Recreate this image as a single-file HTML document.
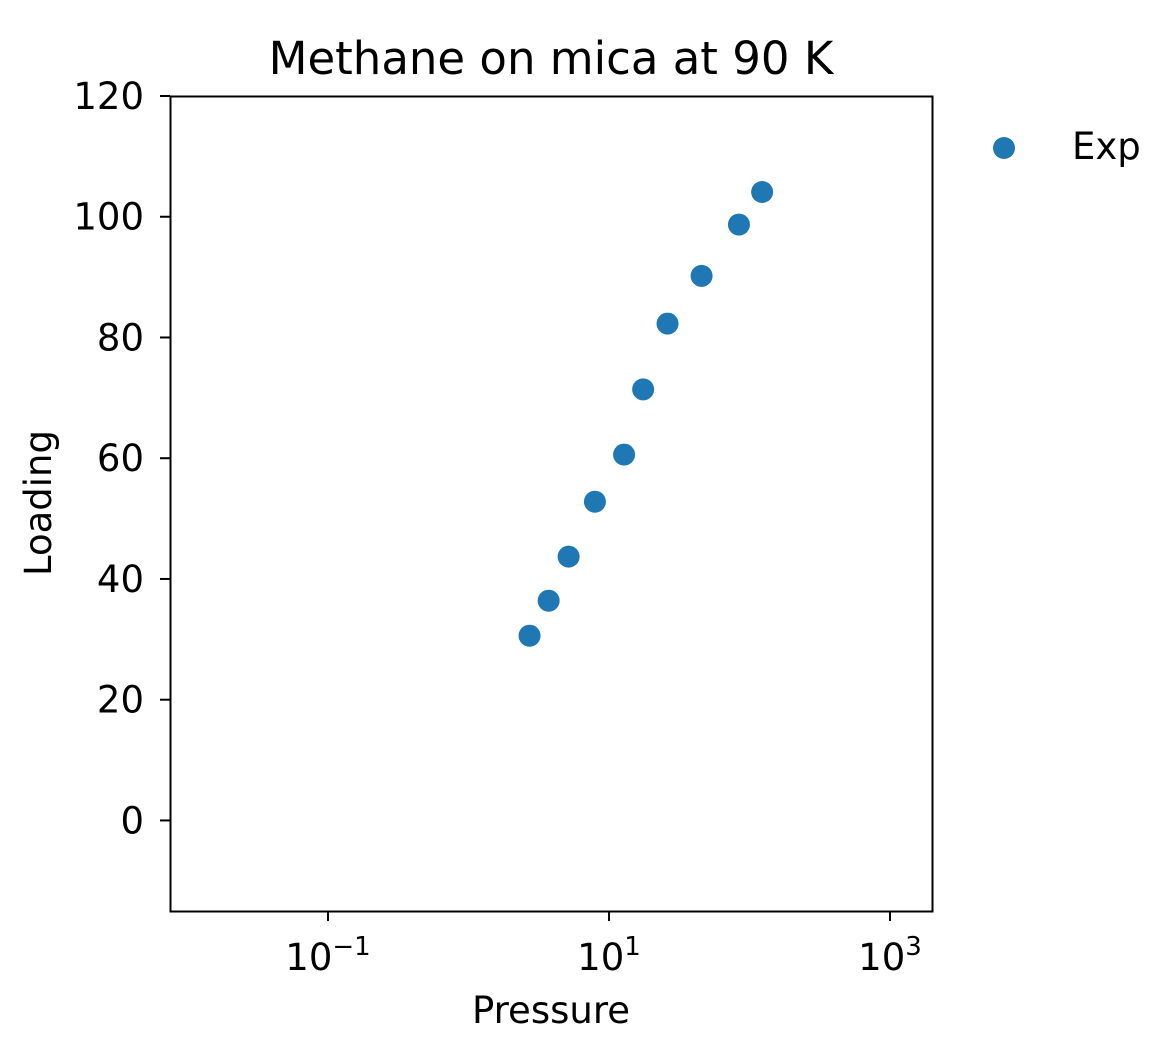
<!DOCTYPE html>
<html><head><meta charset="utf-8"><style>
body{margin:0;background:#fff;}
svg text{font-family:"DejaVu Sans","Liberation Sans",sans-serif;fill:#000;}
</style></head><body>
<svg width="1163" height="1048" id="c">
<text x="551" y="74" font-size="45" text-anchor="middle">Methane on mica at 90 K</text>
<text x="551" y="1023" font-size="37" text-anchor="middle">Pressure</text>
<text transform="translate(51,503) rotate(-90)" font-size="37" text-anchor="middle">Loading</text>
<g id="plot"></g>
<rect x="170.5" y="96.5" width="762" height="815" fill="none" stroke="#000" stroke-width="2"/>
<circle cx="1004" cy="148" r="11" fill="#1f77b4"/>
<text x="1072" y="159" font-size="37">Exp</text>
</svg>
<script>
const pressure=[2.72,3.72,5.16,7.94,12.8,17.5,26.1,45.6,84.1,123];
const loading=[30.6,36.4,43.7,52.8,60.6,71.4,82.3,90.2,98.7,104.1];
const yTicks=[0,20,40,60,80,100,120];
const xTickExp=[-1,1,3];
const L=170,R=932,T=96,B=911;
const yMin=-15,yMax=120;
const xMinLog=-1-(328-L)/140.5, xMaxLog=xMinLog+(R-L)/140.5;
const sx=p=>L+(Math.log10(p)-xMinLog)/(xMaxLog-xMinLog)*(R-L);
const sy=v=>B-(v-yMin)/(yMax-yMin)*(B-T);
const ns="http://www.w3.org/2000/svg";
const g=document.getElementById('plot');
function mk(t,a){const e=document.createElementNS(ns,t);for(const k in a)e.setAttribute(k,a[k]);g.appendChild(e);return e;}
yTicks.forEach(v=>{
 const y=sy(v);
 const l=mk('line',{x1:L-10,x2:L,y1:y,y2:y,stroke:'#000','stroke-width':2});
 
 
 const t=mk('text',{x:L-26,y:y+13,'font-size':37,'text-anchor':'end'});
 t.textContent=v;
 
 
});
xTickExp.forEach(e=>{
 const x=sx(Math.pow(10,e));
 const l=mk('line',{x1:x,x2:x,y1:B,y2:B+10,stroke:'#000','stroke-width':2});
 
 
 const t=mk('text',{x:x,y:B+59,'font-size':37,'text-anchor':'middle'});
 t.innerHTML='10<tspan dy="-15" font-size="26">'+(e<0?'\u2212':'')+Math.abs(e)+'</tspan>';
 
 
});
pressure.forEach((p,i)=>{
 const c=mk('circle',{cx:sx(p),cy:sy(loading[i]),r:11,fill:'#1f77b4'});
 
 
});
</script>
</body></html>
